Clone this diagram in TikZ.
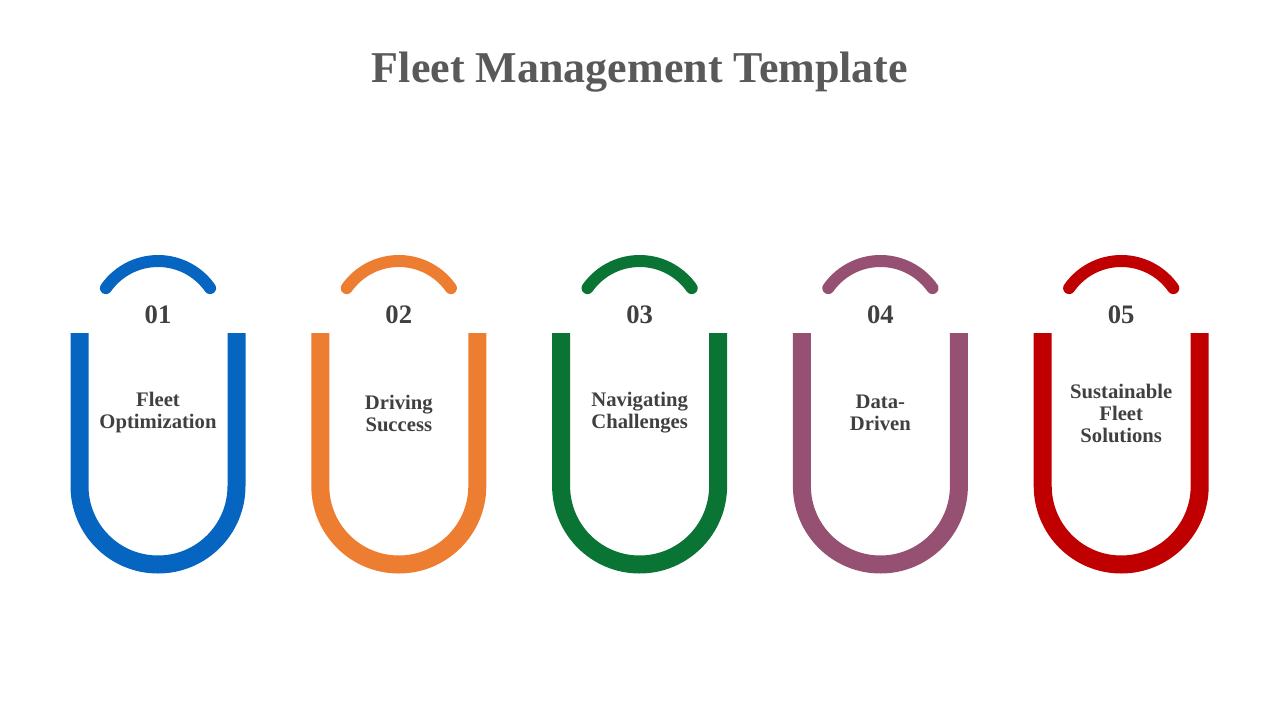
\documentclass[tikz,border=0pt]{standalone}
\usepackage{fontspec}
\setmainfont{Liberation Serif}
\definecolor{blueU}{HTML}{0565C0}
\definecolor{orangeU}{HTML}{ED7D31}
\definecolor{greenU}{HTML}{0A7434}
\definecolor{purpleU}{HTML}{955072}
\definecolor{redU}{HTML}{C00000}
\definecolor{textgray}{HTML}{404040}
\definecolor{titlegray}{HTML}{595959}
\begin{document}
\begin{tikzpicture}[x=0.75pt, y=-0.75pt,
    ushape/.style={line width=13.5pt},
    toparc/.style={line width=9pt, line cap=round},
    numlabel/.style={font=\bfseries\fontsize{20}{23}\selectfont, text=textgray},
    itemlabel/.style={font=\bfseries\fontsize{15.5}{16.5}\selectfont, text=textgray, align=center}]
\useasboundingbox (0,0) rectangle (1280,720);
\node[font=\bfseries\fontsize{33}{36}\selectfont, text=titlegray] (title) at (640,72) {Fleet Management Template};
\foreach \i/\col/\txt [count=\k from 0] in {01/blueU/{Fleet\\Optimization},
                                          02/orangeU/{Driving\\Success},
                                          03/greenU/{Navigating\\Challenges},
                                          04/purpleU/{Data-\\Driven},
                                          05/redU/{Sustainable\\Fleet\\Solutions}}{
  \pgfmathsetmacro{\cx}{158+240.8*\k}
  % u shape
  \draw[ushape, \col] (\cx-78.5,333) -- (\cx-78.5,486) arc (180:0:78.5) -- (\cx+78.5,333);
  % top arc
  \draw[toparc, \col] (\cx,324.6) ++(215:63.6) arc (215:325:63.6);
  \node[numlabel] (num\i) at (\cx,315) {\i};
  \node[itemlabel] (item\i) at (\cx,413) {\txt};
}
\end{tikzpicture}
\end{document}
